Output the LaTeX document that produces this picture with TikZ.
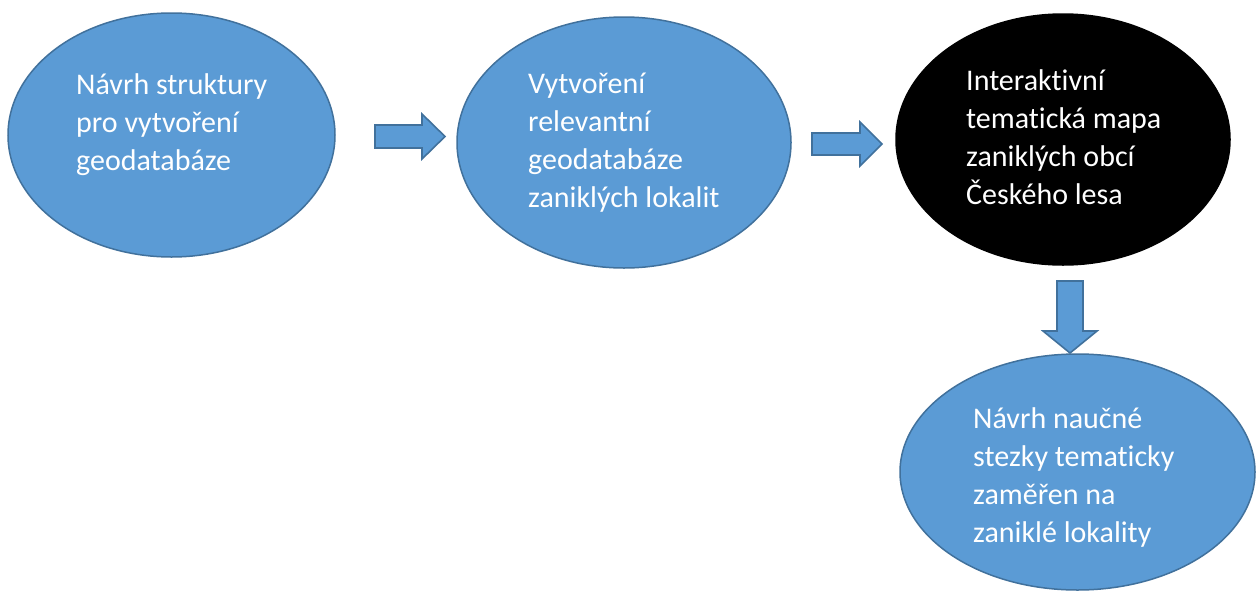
\documentclass[tikz,border=0pt]{standalone}
\usepackage{fontspec}
\setmainfont{Carlito}[Ligatures=CommonOff]
\usetikzlibrary{shapes.geometric}
\definecolor{ofill}{HTML}{5B9BD5}
\definecolor{oline}{HTML}{41719C}
\tikzset{
  blob/.style={ellipse, draw=oline, fill=ofill, line width=1.5pt, inner sep=0pt},
  darkblob/.style={ellipse, draw=black, fill=black, line width=1.5pt, inner sep=0pt},
  lbl/.style={anchor=base west, inner sep=0pt, text=white, font=\fontsize{30}{38}\selectfont},
  blockarrow/.style={draw=oline, fill=ofill, line width=1.6pt, line join=miter}
}
\newcommand{\lines}[1]{\parbox[t]{9cm}{\raggedright\fontsize{30}{38}\selectfont #1}}
\begin{document}
\begin{tikzpicture}[x=1pt,y=-1pt]
\useasboundingbox (0,0) rectangle (1256,592);
\fill[white] (0,0) rectangle (1256,592);
% ellipses
\node[blob, minimum width=327pt, minimum height=244pt] (e1) at (171.5,135) {};
\node[blob, minimum width=334pt, minimum height=251pt] (e2) at (624,142.5) {};
\node[darkblob, minimum width=334pt, minimum height=251pt] (e3) at (1063,139.5) {};
\node[blob, minimum width=355pt, minimum height=236pt] (e4) at (1077.5,472) {};
% texts
\node[lbl] (t1) at (76,94.5) {\lines{Návrh struktury\\pro vytvoření\\geodatabáze}};
\node[lbl] (t2) at (528,93) {\lines{Vytvoření\\relevantní\\geodatabáze\\zaniklých lokalit}};
\node[lbl] (t3) at (966,90) {\lines{Interaktivní\\tematická mapa\\zaniklých obcí\\Českého lesa}};
\node[lbl] (t4) at (973,428) {\lines{Návrh naučné\\stezky tematicky\\zaměřen na\\zaniklé lokality}};
% block arrows
\coordinate (a1) at (375,136.5);
\draw[blockarrow] (a1) ++(0,-11.5) -- ++(47,0) -- ++(0,-11) -- ++(23,22.5) -- ++(-23,22.5) -- ++(0,-11) -- ++(-47,0) -- cycle;
\coordinate (a2) at (812,144);
\draw[blockarrow] (a2) ++(0,-11) -- ++(48,0) -- ++(0,-11) -- ++(22,22) -- ++(-22,22) -- ++(0,-11) -- ++(-48,0) -- cycle;
\coordinate (a3) at (1070,281);
\draw[blockarrow] (a3) ++(-13,0) -- ++(0,50) -- ++(-14,0) -- ++(27,22) -- ++(27,-22) -- ++(-14,0) -- ++(0,-50) -- cycle;
\end{tikzpicture}
\end{document}
